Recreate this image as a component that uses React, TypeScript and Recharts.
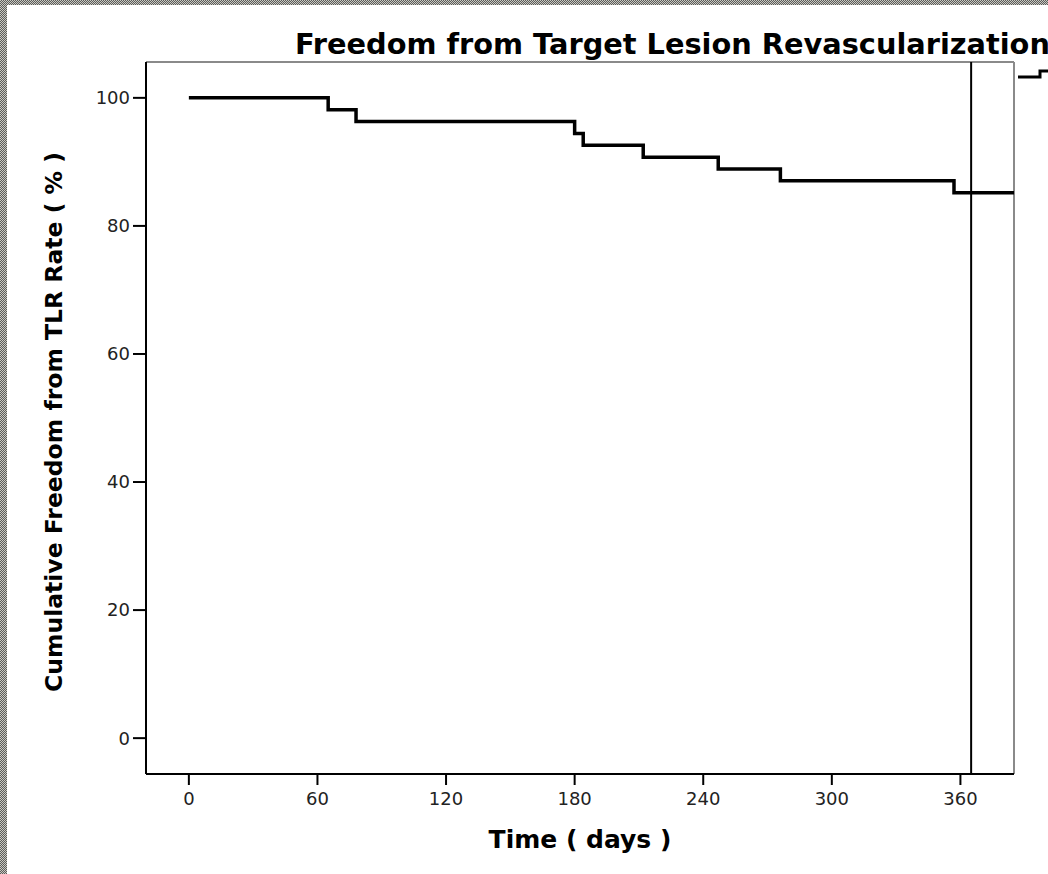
import { LineChart, Line, XAxis, YAxis, ReferenceLine } from "recharts"

// Kaplan–Meier estimate, freedom from TLR (n = 54)
const days = [0, 65, 78, 180, 184, 212, 247, 276, 357, 385]
const freedom = [100, 98.15, 96.3, 94.44, 92.59, 90.74, 88.89, 87.04, 85.19, 85.19]
const xTicks = [0, 60, 120, 180, 240, 300, 360]
const yTicks = [0, 20, 40, 60, 80, 100]
const xDomain = [-20, 385]
const yDomain = [-5.6, 105.6]
const oneYear = 365

const data = days.map((d, i) => ({ day: d, pct: freedom[i] }))

const W = 1048
const H = 874
const FONT = "'DejaVu Sans', Arial, sans-serif"

export default function App() {
  return (
    <div
      style={{
        position: "absolute",
        left: 0,
        top: 0,
        width: W,
        height: H,
        overflow: "hidden",
        background: "repeating-conic-gradient(#5c5c5c 0% 25%, #c9c9c0 0% 50%) 0 0 / 2px 2px",
      }}
    >
      <div style={{ position: "absolute", left: 7, top: 5, width: W, height: H, background: "#fff" }} />
      <div style={{ position: "absolute", left: 0, top: 0 }}>
        <LineChart width={W} height={H} data={data} margin={{ top: 62, right: 34, bottom: 0, left: 0 }}>
          {/* grey frame on top and right */}
          <ReferenceLine y={yDomain[1]} stroke="#8a8a8a" strokeWidth={2} />
          <ReferenceLine x={xDomain[1]} stroke="#8a8a8a" strokeWidth={2} />
          <XAxis
            dataKey="day"
            type="number"
            domain={xDomain}
            ticks={xTicks}
            allowDataOverflow
            height={100}
            tickSize={11}
            tickMargin={7}
            axisLine={{ stroke: "#000", strokeWidth: 2 }}
            tickLine={{ stroke: "#000", strokeWidth: 2 }}
            tick={{ fontSize: 18, fill: "#222", fontFamily: FONT }}
            label={(p: any) => {
              const vb = p.viewBox
              return (
                <text
                  x={vb.x + vb.width / 2}
                  y={848}
                  textAnchor="middle"
                  fontFamily={FONT}
                  fontWeight="bold"
                  fontSize={25}
                  fill="#000"
                >
                  Time ( days )
                </text>
              )
            }}
          />
          <YAxis
            type="number"
            domain={yDomain}
            ticks={yTicks}
            allowDataOverflow
            width={146}
            tickSize={13}
            tickMargin={3}
            axisLine={{ stroke: "#000", strokeWidth: 2 }}
            tickLine={{ stroke: "#000", strokeWidth: 2 }}
            tick={{ fontSize: 18, fill: "#222", fontFamily: FONT }}
            label={(p: any) => {
              const vb = p.viewBox
              const cx = 62
              const cy = vb.y + vb.height / 2 + 4
              return (
                <text
                  x={cx}
                  y={cy}
                  transform={`rotate(-90 ${cx} ${cy})`}
                  textAnchor="middle"
                  fontFamily={FONT}
                  fontWeight="bold"
                  fontSize={23.5}
                  fill="#000"
                >
                  Cumulative Freedom from TLR Rate ( % )
                </text>
              )
            }}
          />
          <ReferenceLine x={oneYear} stroke="#000" strokeWidth={2} />
          <Line
            type="stepAfter"
            dataKey="pct"
            stroke="#000"
            strokeWidth={3.5}
            dot={false}
            activeDot={false}
            isAnimationActive={false}
          />
        </LineChart>
      </div>
      <svg width={W} height={90} style={{ position: "absolute", left: 0, top: 0 }}>
        <text x={295} y={54} fontFamily={FONT} fontWeight="bold" fontSize={28.8} fill="#000">
          Freedom from Target Lesion Revascularization
        </text>
        {/* legend line glyph, cut by the right edge */}
        <path d="M1018 77 H1040 V71 H1048" fill="none" stroke="#000" strokeWidth={3} />
      </svg>
    </div>
  )
}
